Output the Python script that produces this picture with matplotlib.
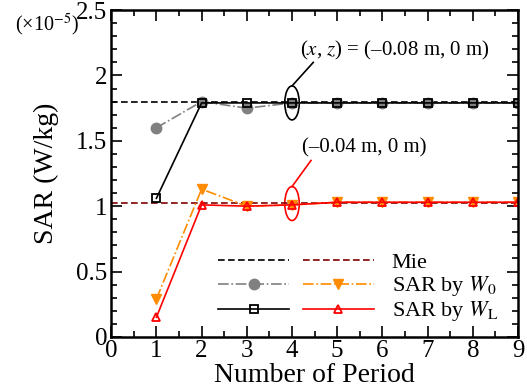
import matplotlib.pyplot as plt
from matplotlib.patches import Ellipse
from matplotlib.legend_handler import HandlerTuple
from matplotlib.lines import Line2D
from matplotlib.ticker import MultipleLocator

plt.rcParams['font.family'] = ['Liberation Serif', 'DejaVu Serif']
plt.rcParams['mathtext.fontset'] = 'stix'

# data (SAR in units of 1e-5 W/kg)
periods = [1, 2, 3, 4, 5, 6, 7, 8, 9]
mie_08 = 1.80
mie_04 = 1.025
w0_08 = [1.60, 1.80, 1.75, 1.79, 1.79, 1.79, 1.79, 1.79, 1.79]
wl_08 = [1.06, 1.79, 1.79, 1.79, 1.79, 1.79, 1.79, 1.79, 1.79]
w0_04 = [0.29, 1.13, 1.00, 1.01, 1.03, 1.03, 1.03, 1.03, 1.03]
wl_04 = [0.15, 1.01, 1.00, 1.01, 1.03, 1.03, 1.03, 1.03, 1.03]

fig = plt.figure(figsize=(5.27, 3.89), dpi=100)
ax = fig.add_axes([0.211, 0.134, 0.772, 0.840])

ax.axhline(mie_08, color="black", ls=(0, (4, 2)), lw=1.2)
ax.axhline(mie_04, color="#800000", ls=(0, (4, 2)), lw=1.2)

ax.plot(periods, w0_08, color="#808080", ls="-.", lw=1.2, marker="o", ms=7.5)
ax.plot(periods, w0_04, color="#ff8c00", ls="-.", lw=1.2, marker="v", ms=7)
ax.plot(periods, wl_08, color="black", lw=1.2, marker="s", ms=5.5, mfc="none", mew=1.3)
ax.plot(periods, wl_04, color="red", lw=1.2, marker="^", ms=6, mfc="none", mew=1.3)

# annotation ellipses
ax.add_patch(Ellipse((4, 1.79), 0.32, 0.26, fill=False, ec="black", lw=1.2))
ax.add_patch(Ellipse((4, 1.02), 0.32, 0.26, fill=False, ec="red", lw=1.2))
ax.plot([4.0, 4.47], [1.92, 2.10], color="black", lw=1.2)
ax.plot([4.0, 4.42], [1.15, 1.35], color="red", lw=1.2)
ax.text(4.18, 2.19, r"($\it{x}$, $\it{z}$) = (–0.08 m, 0 m)", fontsize=15, va="center")
ax.text(4.22, 1.445, "(–0.04 m, 0 m)", fontsize=15, va="center")

ax.set_xlim(0, 9)
ax.set_ylim(0, 2.5)
ax.xaxis.set_major_locator(MultipleLocator(1))
ax.xaxis.set_minor_locator(MultipleLocator(0.5))
ax.yaxis.set_major_locator(MultipleLocator(0.5))
ax.yaxis.set_minor_locator(MultipleLocator(0.1))
ax.set_yticks([0, 0.5, 1, 1.5, 2, 2.5], ["0", "0.5", "1", "1.5", "2", "2.5"])
ax.tick_params(which="both", direction="in", top=True, right=True, labelsize=18, width=1.2)
ax.tick_params(axis="x", pad=2)
ax.tick_params(axis="y", pad=3)
ax.tick_params(which="major", length=8)
ax.tick_params(which="minor", length=4)
for s in ax.spines.values():
    s.set_linewidth(1.8)
ax.set_xlabel("Number of Period", fontsize=20, labelpad=1)
ax.set_ylabel("SAR (W/kg)", fontsize=20, labelpad=12)
fig.text(0.028, 0.92, r"(×10$^{-5}$)", fontsize=14.5, va="baseline")

# legend with paired handles
h_mie = (Line2D([], [], color="black", ls=(0, (4, 2)), lw=1.2),
         Line2D([], [], color="#800000", ls=(0, (4, 2)), lw=1.2))
h_w0 = (Line2D([], [], color="#808080", ls="-.", lw=1.2, marker="o", ms=7.5),
        Line2D([], [], color="#ff8c00", ls="-.", lw=1.2, marker="v", ms=7))
h_wl = (Line2D([], [], color="black", lw=1.2, marker="s", ms=5.5, mfc="none", mew=1.3),
        Line2D([], [], color="red", lw=1.2, marker="^", ms=6, mfc="none", mew=1.3))
ax.legend([h_mie, h_w0, h_wl],
          ["Mie", r"SAR by $\it{W}_0$", r"SAR by $\it{W}_\mathrm{L}$"],
          handler_map={tuple: HandlerTuple(ndivide=None, pad=0.6)},
          handlelength=7.0, frameon=False, fontsize=16, loc="lower right",
          bbox_to_anchor=(1.0, -0.02), labelspacing=0.05, handletextpad=0.8)

fig.savefig("out.png", dpi=100)
